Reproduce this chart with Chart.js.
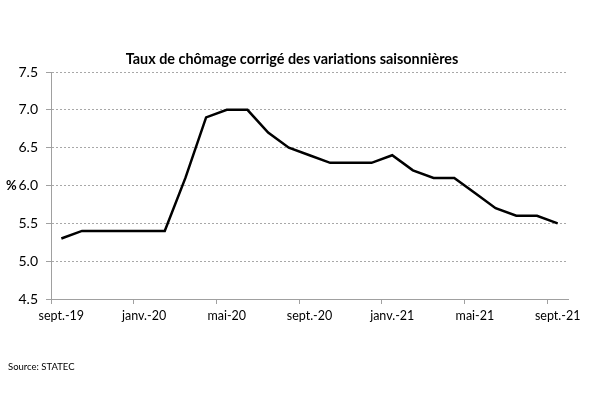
<!DOCTYPE html>
<html>
<head>
<meta charset="utf-8">
<script src="https://cdn.jsdelivr.net/npm/chart.js@4/dist/chart.umd.min.js"></script>
<style>
html,body{margin:0;padding:0;background:#fff;}
#wrap{position:relative;width:600px;height:396px;font-family:Lato,"Open Sans",sans-serif;}
#c{position:absolute;left:0;top:0;}
#title{position:absolute;left:0;top:50px;width:584px;text-align:center;font-weight:bold;font-size:14.4px;color:#000;}
#pct{position:absolute;left:6px;top:177px;font-weight:bold;font-size:13px;color:#000;}
#src{position:absolute;left:8px;top:361px;font-size:9.5px;color:#000;}
</style>
</head>
<body>
<div id="wrap">
<canvas id="c" width="600" height="396"></canvas>
<div id="title">Taux de chômage corrigé des variations saisonnières</div>
<div id="pct">%</div>
<div id="src">Source: STATEC</div>
</div>
<script>
const months = ["sept.-19","oct.-19","nov.-19","déc.-19","janv.-20","févr.-20","mars-20","avr.-20","mai-20","juin-20","juil.-20","août-20","sept.-20","oct.-20","nov.-20","déc.-20","janv.-21","févr.-21","mars-21","avr.-21","mai-21","juin-21","juil.-21","août-21","sept.-21"];
const unemployment = [5.3,5.4,5.4,5.4,5.4,5.4,6.1,6.9,7.0,7.0,6.7,6.5,6.4,6.3,6.3,6.3,6.4,6.2,6.1,6.1,5.9,5.7,5.6,5.6,5.5];
const yTicks = [4.5,5.0,5.5,6.0,6.5,7.0,7.5];
const labelEvery = 4;

new Chart(document.getElementById('c'), {
  type: 'line',
  data: {
    labels: months,
    datasets: [{
      data: unemployment,
      borderColor: '#000',
      borderWidth: 2.5,
      pointRadius: 0,
      tension: 0,
      fill: false
    }]
  },
  options: {
    responsive: false,
    animation: false,
    devicePixelRatio: 1,
    layout: { padding: { left: 0, right: 32, top: 72, bottom: 72 } },
    plugins: { legend: { display: false }, title: { display: false }, tooltip: { enabled: false } },
    scales: {
      x: {
        offset: true,
        grid: {
          offset: true,
          drawOnChartArea: false,
          drawTicks: true,
          tickLength: 5,
          color: (ctx) => (ctx.index % labelEvery === 0 && ctx.index < months.length) ? '#a0a0a0' : 'rgba(0,0,0,0)'
        },
        border: { display: true, color: '#a0a0a0', width: 1 },
        ticks: {
          autoSkip: false,
          maxRotation: 0,
          minRotation: 0,
          padding: 4,
          color: '#000',
          font: { family: 'Lato', size: 12.5 },
          callback: function(v, i) { return i % labelEvery === 0 ? months[i] : ''; }
        },
        afterFit: (s) => { s.height = 25; }
      },
      y: {
        min: 4.5,
        max: 7.5,
        afterBuildTicks: (s) => { s.ticks = yTicks.map(v => ({ value: v })); },
        grid: {
          color: '#a8a8a8',
          tickBorderDash: [],
          tickColor: '#a0a0a0',
          tickLength: 5,
          drawTicks: true
        },
        border: { display: true, color: '#a0a0a0', width: 1, dash: [2, 2] },
        ticks: {
          padding: 8,
          color: '#000',
          font: { family: 'Lato', size: 14 },
          callback: (v) => Number(v).toFixed(1)
        },
        afterFit: (s) => { s.width = 51; }
      }
    }
  }
});
</script>
</body>
</html>
